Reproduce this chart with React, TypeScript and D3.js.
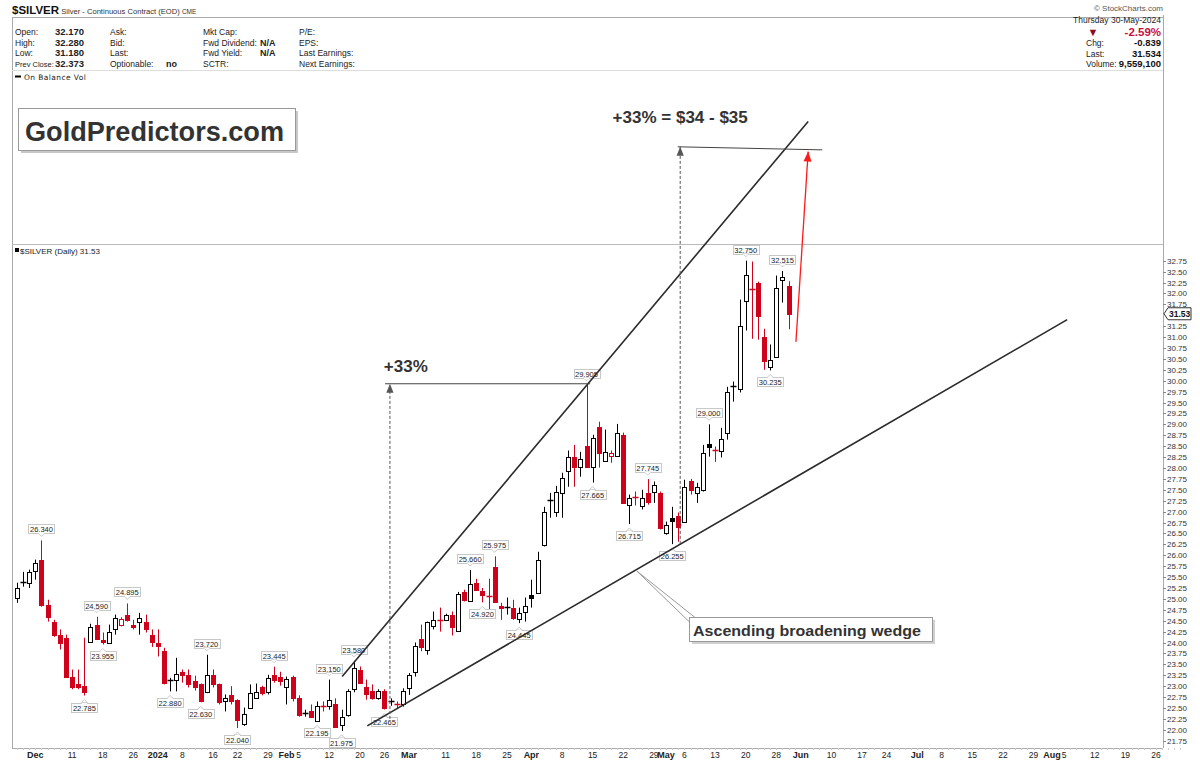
import React from 'react';
import * as d3 from 'd3';

// ---------- calendar ----------
const FIRST_DAY = '2023-11-28';
const LAST_DAY = '2024-08-30';
const HOLIDAYS = ['2023-12-25', '2024-01-01', '2024-01-15', '2024-02-19', '2024-03-29', '2024-05-27', '2024-06-19', '2024-07-04'];

// ---------- daily OHLC (Nov 28 2023 .. May 30 2024) ----------
const OPEN = [25.03, 25.36, 25.37, 25.65, 25.90, 24.87, 24.48, 24.18, 24.11, 23.22, 23.06, 23.01, 24.02, 24.41, 24.05, 24.00, 24.30, 24.41, 24.64, 24.41,
  24.46, 24.48, 24.18, 23.98, 23.81, 23.12, 23.13, 23.33, 23.26, 23.11, 23.04, 22.86, 23.26, 23.04, 22.65, 22.79, 22.69, 22.13, 22.51, 22.74,
  22.97, 22.86, 23.26, 23.22, 22.97, 23.22, 22.74, 22.37, 22.42, 22.20, 22.55, 22.55, 22.58, 22.11, 22.35, 22.93, 23.38, 22.97, 22.88, 22.72,
  22.90, 22.66, 22.60, 22.60, 22.95, 23.33, 24.09, 23.84, 24.37, 24.51, 24.52, 24.62, 24.27, 25.16, 24.96, 25.37, 25.19, 25.06, 25.74, 24.84,
  24.80, 24.80, 24.55, 24.71, 25.10, 25.14, 26.24, 27.27, 27.00, 27.43, 27.92, 28.26, 28.03, 28.51, 28.03, 28.95, 28.17, 28.27, 28.28, 28.76,
  27.16, 27.33, 27.14, 27.43, 27.46, 27.43, 26.52, 26.86, 26.91, 26.77, 27.69, 27.43, 27.50, 28.56, 28.42, 28.40, 28.81, 29.87, 29.82, 31.83,
  32.10, 32.25, 31.01, 30.32, 30.55, 32.31, 32.17];
const HIGH = [25.37, 25.62, 25.67, 25.90, 26.34, 24.98, 24.52, 24.30, 24.18, 23.38, 23.38, 24.11, 24.43, 24.59, 24.23, 24.41, 24.64, 24.58, 24.895, 24.52,
  24.68, 24.64, 24.30, 24.30, 23.88, 23.19, 23.65, 23.38, 23.38, 23.24, 23.06, 23.72, 23.38, 23.06, 22.81, 23.00, 22.70, 22.51, 23.04, 23.06,
  23.01, 23.26, 23.445, 23.33, 23.22, 23.24, 22.79, 22.46, 22.58, 22.65, 22.65, 23.15, 22.72, 22.46, 22.93, 23.58, 23.45, 23.15, 23.04, 22.93,
  22.93, 22.72, 22.65, 22.95, 23.30, 24.00, 24.41, 24.48, 24.71, 24.80, 24.66, 24.71, 25.16, 25.21, 25.66, 25.46, 25.25, 25.46, 25.975, 24.91,
  25.03, 24.98, 24.80, 25.03, 25.44, 26.08, 27.11, 27.43, 27.59, 27.89, 28.40, 28.53, 28.37, 29.905, 28.76, 29.06, 28.88, 28.40, 29.01, 28.81,
  27.39, 27.46, 27.50, 27.745, 27.69, 27.46, 26.77, 27.11, 26.98, 27.73, 27.75, 27.66, 28.53, 29.00, 28.49, 28.92, 29.86, 29.98, 31.86, 32.75,
  32.73, 32.27, 31.19, 30.83, 32.41, 32.515, 32.28];
const LOW = [24.91, 25.28, 25.25, 25.44, 24.82, 24.48, 24.13, 23.84, 23.19, 22.93, 22.93, 22.785, 24.00, 24.07, 23.955, 23.98, 24.18, 24.37, 24.48, 24.30,
  24.18, 24.23, 23.90, 23.68, 23.04, 22.88, 22.88, 23.08, 22.97, 22.90, 22.63, 22.84, 22.97, 22.58, 22.42, 22.58, 22.04, 22.09, 22.49, 22.72,
  22.79, 22.81, 23.08, 23.01, 22.58, 22.65, 22.30, 22.30, 22.28, 22.195, 22.42, 22.46, 22.05, 21.975, 22.30, 22.86, 23.06, 22.69, 22.69, 22.69,
  22.465, 22.55, 22.50, 22.53, 22.80, 23.22, 23.80, 23.72, 24.30, 24.25, 24.50, 24.16, 24.25, 24.94, 24.94, 25.19, 24.92, 24.64, 24.91, 24.52,
  24.64, 24.52, 24.445, 24.48, 24.80, 25.14, 26.20, 26.86, 26.88, 26.86, 27.57, 27.57, 27.80, 28.01, 27.665, 28.01, 28.14, 28.12, 28.26, 27.18,
  26.715, 27.14, 27.05, 27.16, 27.20, 26.59, 26.47, 26.255, 26.31, 26.75, 27.39, 27.20, 27.46, 28.26, 28.14, 28.24, 28.65, 29.52, 29.73, 31.15,
  30.96, 30.94, 30.25, 30.235, 30.53, 31.79, 31.18];
const CLOSE = [25.26, 25.38, 25.62, 25.83, 24.87, 24.59, 24.18, 24.00, 23.22, 22.99, 22.97, 22.86, 24.36, 24.09, 24.02, 24.25, 24.57, 24.55, 24.52, 24.36,
  24.57, 24.30, 24.02, 23.91, 23.08, 23.13, 23.28, 23.25, 23.04, 22.99, 22.65, 23.26, 23.04, 22.63, 22.74, 22.65, 22.23, 22.37, 22.84, 22.86,
  22.84, 23.19, 23.15, 23.11, 23.17, 22.74, 22.35, 22.38, 22.30, 22.55, 22.53, 22.69, 22.07, 22.30, 22.88, 23.42, 23.08, 22.81, 22.74, 22.90,
  22.50, 22.67, 22.58, 22.88, 23.26, 23.93, 23.90, 24.46, 24.52, 24.50, 24.64, 24.36, 25.12, 24.98, 25.34, 25.21, 25.10, 25.05, 24.94, 24.78,
  24.82, 24.57, 24.68, 24.84, 25.03, 25.88, 27.00, 27.25, 27.46, 27.78, 28.26, 28.03, 28.21, 28.03, 28.69, 28.35, 28.37, 28.34, 28.81, 27.20,
  27.32, 27.31, 27.32, 27.23, 27.62, 26.63, 26.70, 26.79, 26.65, 27.57, 27.50, 27.57, 28.35, 28.49, 28.40, 28.67, 29.73, 29.85, 31.26, 32.43,
  32.09, 31.49, 30.44, 30.48, 32.13, 32.373, 31.534];

// ---------- price labels on swing points ----------
const PL_INDEX = [4, 11, 13, 14, 18, 25, 30, 31, 36, 42, 49, 51, 53, 55, 60, 74, 76, 78, 82, 93, 94, 100, 103, 107, 113, 119, 123, 125];
const PL_TEXT = ['26.340', '22.785', '24.590', '23.955', '24.895', '22.880', '22.630', '23.720', '22.040', '23.445', '22.195', '23.150', '21.975', '23.580', '22.465',
  '25.660', '24.920', '25.975', '24.445', '29.905', '27.665', '26.715', '27.745', '26.255', '29.000', '32.750', '30.235', '32.515'];
const PL_SIDE = ['a', 'b', 'a', 'b', 'a', 'b', 'b', 'a', 'b', 'a', 'b', 'a', 'b', 'a', 'b', 'a', 'b', 'a', 'b', 'a', 'b', 'b', 'a', 'b', 'a', 'a', 'b', 'a'];

// ---------- axes ----------
const Y_TICKS = ['21.75', '22.00', '22.25', '22.50', '22.75', '23.00', '23.25', '23.50', '23.75', '24.00', '24.25', '24.50', '24.75', '25.00', '25.25', '25.50',
  '25.75', '26.00', '26.25', '26.50', '26.75', '27.00', '27.25', '27.50', '27.75', '28.00', '28.25', '28.50', '28.75', '29.00', '29.25', '29.50',
  '29.75', '30.00', '30.25', '30.50', '30.75', '31.00', '31.25', '31.75', '32.00', '32.25', '32.50', '32.75'];
const LAST_PRICE = 31.534;
const LAST_PRICE_TEXT = '31.53';
const X_TICK_DATES = ['2023-12-01', '2023-12-11', '2023-12-18', '2023-12-26', '2024-01-02', '2024-01-08', '2024-01-16', '2024-01-22', '2024-01-29', '2024-02-01',
  '2024-02-05', '2024-02-12', '2024-02-20', '2024-02-26', '2024-03-01', '2024-03-11', '2024-03-18', '2024-03-25', '2024-04-01', '2024-04-08', '2024-04-15',
  '2024-04-22', '2024-04-29', '2024-05-01', '2024-05-06', '2024-05-13', '2024-05-20', '2024-05-28', '2024-06-03', '2024-06-10', '2024-06-17', '2024-06-24',
  '2024-07-01', '2024-07-08', '2024-07-15', '2024-07-22', '2024-07-29', '2024-08-01', '2024-08-05', '2024-08-12', '2024-08-19', '2024-08-26'];
const X_TICK_TEXT = ['Dec', '11', '18', '26', '2024', '8', '16', '22', '29', 'Feb', '5', '12', '20', '26', 'Mar', '11', '18', '25', 'Apr', '8', '15',
  '22', '29', 'May', '6', '13', '20', '28', 'Jun', '10', '17', '24', 'Jul', '8', '15', '22', '29', 'Aug', '5', '12', '19', '26'];
const X_TICK_BOLD = ['Dec', '2024', 'Feb', 'Mar', 'Apr', 'May', 'Jun', 'Jul', 'Aug'];

// ---------- drawn annotations (trading-day index, price) ----------
const UPPER_WEDGE = [[53.1, 23.22], [129.2, 35.94]];
const LOWER_WEDGE = [[57.2, 22.09], [171.5, 31.40]];
const PROJ1_VERT = [[60.9, 22.25], [60.9, 29.93]];
const PROJ1_HORZ = [[60.1, 29.93], [93.6, 29.93]];
const PROJ2_VERT = [[108.3, 26.26], [108.3, 35.36]];
const PROJ2_HORZ = [[107.9, 35.36], [131.5, 35.29]];
const RED_ARROW = [[127.2, 30.89], [129.2, 35.25]];
const CALLOUT_TIP = [101.2, 25.64];

const RED = '#d0021b';
const FONT = '"Liberation Sans", Arial, sans-serif';

function tradingDays(): string[] {
  const out: string[] = [];
  const d = new Date(FIRST_DAY + 'T00:00:00Z');
  const end = new Date(LAST_DAY + 'T00:00:00Z');
  while (d <= end) {
    const s = d.toISOString().slice(0, 10);
    const wd = d.getUTCDay();
    if (wd !== 0 && wd !== 6 && !HOLIDAYS.includes(s)) out.push(s);
    d.setUTCDate(d.getUTCDate() + 1);
  }
  return out;
}

const px = (v: number) => Math.round(v) + 0.5;

export default function App() {
  const days = tradingDays();
  const x = d3.scaleLinear().domain([0, 186]).range([17, 1156]);
  const y = d3.scaleLinear().domain([21.75, 32.75]).range([740.7, 260.7]);
  const L = 12, R = 1163;

  const arrowHead = (x0: number, y0: number, x1: number, y1: number, color: string, size = 8) => {
    const ang = Math.atan2(y1 - y0, x1 - x0);
    const w = size * 0.4;
    const bx = x1 - size * Math.cos(ang), by = y1 - size * Math.sin(ang);
    const p = [
      [x1, y1],
      [bx + w * Math.sin(ang), by - w * Math.cos(ang)],
      [bx - w * Math.sin(ang), by + w * Math.cos(ang)],
    ];
    return <polygon points={p.map((q) => q.join(',')).join(' ')} fill={color} />;
  };

  const seg = (s: number[][]) => ({ x1: x(s[0][0]), y1: y(s[0][1]), x2: x(s[1][0]), y2: y(s[1][1]) });

  const headerRows = [
    ['Open:', '32.170', 'Ask:', '', 'Mkt Cap:', '', 'P/E:'],
    ['High:', '32.280', 'Bid:', '', 'Fwd Dividend:', 'N/A', 'EPS:'],
    ['Low:', '31.180', 'Last:', '', 'Fwd Yield:', 'N/A', 'Last Earnings:'],
    ['Prev Close:', '32.373', 'Optionable:', 'no', 'SCTR:', '', 'Next Earnings:'],
  ];
  const rowY = [35, 45.5, 56, 66.5];

  const up = seg(UPPER_WEDGE), lo = seg(LOWER_WEDGE);
  const p1v = seg(PROJ1_VERT), p1h = seg(PROJ1_HORZ), p2v = seg(PROJ2_VERT), p2h = seg(PROJ2_HORZ), ra = seg(RED_ARROW);
  const tipX = x(CALLOUT_TIP[0]), tipY = y(CALLOUT_TIP[1]);
  const lp = y(LAST_PRICE);

  return (
    <svg width={1200} height={761} style={{ position: 'absolute', left: 0, top: 0, background: '#fff' }} fontFamily={FONT}>
      <rect x={0} y={0} width={1200} height={761} fill="#fff" />
      {/* ---------- header ---------- */}
      <text x={12} y={14} fill="#111">
        <tspan fontSize={11.5} fontWeight="bold">$SILVER</tspan>
        <tspan fontSize={7.6} fill="#333"> Silver - Continuous Contract (EOD) </tspan>
        <tspan fontSize={6.5} fill="#333">CME</tspan>
      </text>
      <text x={1163} y={11} fontSize={8} fill="#555" textAnchor="end">© StockCharts.com</text>
      <line x1={L} x2={R} y1={17.5} y2={17.5} stroke="#aaa" />
      <line x1={L + 0.5} x2={L + 0.5} y1={17.5} y2={748} stroke="#aaa" />
      <line x1={R + 0.5} x2={R + 0.5} y1={15} y2={748} stroke="#aaa" />
      <line x1={L} x2={R} y1={70.5} y2={70.5} stroke="#ddd" />
      {headerRows.map((r, i) => (
        <g key={i} fontSize={8.5} fill="#222">
          <text x={15} y={rowY[i]}>
            <tspan fontSize={r[0].length > 6 ? 7.5 : 8.5}>{r[0]}</tspan>
            <tspan x={55} fontWeight="bold" fontSize={9.5}>{r[1]}</tspan>
          </text>
          <text x={110} y={rowY[i]}>{r[2]}</text>
          <text x={166} y={rowY[i]} fontWeight="bold" fontSize={9}>{r[3]}</text>
          <text x={203} y={rowY[i]}>{r[4]}</text>
          <text x={260} y={rowY[i]} fontWeight="bold" fontSize={9}>{r[5]}</text>
          <text x={299} y={rowY[i]}>{r[6]}</text>
        </g>
      ))}
      <text x={1161} y={23} fontSize={8.5} fill="#222" textAnchor="end">Thursday  30-May-2024</text>
      <text x={1093} y={36} fontSize={11} fill="#8b0a2a" textAnchor="middle">▼</text>
      <text x={1161} y={36} fontSize={11.5} fontWeight="bold" fill="#c8103a" textAnchor="end">-2.59%</text>
      <text x={1086} y={46} fontSize={8.5} fill="#222">Chg:</text>
      <text x={1161} y={46} fontSize={9.5} fontWeight="bold" fill="#111" textAnchor="end">-0.839</text>
      <text x={1086} y={56.5} fontSize={8.5} fill="#222">Last:</text>
      <text x={1161} y={56.5} fontSize={9.5} fontWeight="bold" fill="#111" textAnchor="end">31.534</text>
      <text x={1086} y={67} fontSize={8.5} fill="#222">Volume:</text>
      <text x={1161} y={67} fontSize={9.5} fontWeight="bold" fill="#111" textAnchor="end">9,559,100</text>

      {/* OBV panel */}
      <line x1={15} x2={21} y1={76.5} y2={76.5} stroke="#000" strokeWidth={2} />
      <text x={24} y={79.5} fontSize={7.5} fill="#222" fontFamily='"DejaVu Sans", sans-serif' letterSpacing={0.4}>On Balance Vol</text>
      <line x1={L} x2={R} y1={244.5} y2={244.5} stroke="#bbb" />

      {/* logo */}
      <rect x={21} y={111} width={277} height={42} fill="#c8c8c8" />
      <rect x={18.5} y={108.5} width={277} height={42} fill="#fff" stroke="#999" />
      <text x={25} y={141} fontSize={27} fontWeight="bold" fill="#333" textLength={259} lengthAdjust="spacingAndGlyphs">GoldPredictors.com</text>

      {/* price panel title */}
      <rect x={15} y={248} width={4} height={4} fill="#000" />
      <text x={20} y={254} fontSize={8} fill="#222">$SILVER (Daily) 31.53</text>

      {/* right axis */}
      {Y_TICKS.map((t) => (
        <g key={t}>
          <line x1={R} x2={R + 3} y1={px(y(+t))} y2={px(y(+t))} stroke="#888" />
          <text x={R + 4} y={y(+t) + 3} fontSize={8} fill="#333">{t}</text>
        </g>
      ))}
      <polygon
        points={`${R + 1},${lp} ${R + 5},${lp - 6} ${R + 28},${lp - 6} ${R + 28},${lp + 6} ${R + 5},${lp + 6}`}
        fill="#fff" stroke="#333" />
      <text x={R + 6} y={lp + 3.5} fontSize={8.5} fontWeight="bold" fill="#111">{LAST_PRICE_TEXT}</text>

      {/* x axis */}
      <line x1={L} x2={R} y1={748.5} y2={748.5} stroke="#aaa" />
      {days.map((d, i) => (
        <line key={d} x1={px(x(i))} x2={px(x(i))} y1={748} y2={750} stroke="#ccc" />
      ))}
      {X_TICK_DATES.map((d, i) => {
        const idx = days.indexOf(d);
        const bold = X_TICK_BOLD.includes(X_TICK_TEXT[i]);
        return (
          <text key={d} x={x(idx)} y={758} fontSize={bold ? 9 : 8.5} fontWeight={bold ? 'bold' : 'normal'} fill="#222" textAnchor="middle">
            {X_TICK_TEXT[i]}
          </text>
        );
      })}

      {/* candles */}
      {OPEN.map((o, i) => {
        const c = CLOSE[i];
        const prev = i > 0 ? CLOSE[i - 1] : o;
        const col = c < prev ? RED : '#000';
        const filled = c < o;
        const cx = px(x(i));
        const yT = Math.round(y(Math.max(o, c))) + 0.5;
        const yB = Math.round(y(Math.min(o, c))) + 0.5;
        const bh = Math.max(0.01, yB - yT);
        return (
          <g key={i}>
            <line x1={cx} x2={cx} y1={y(HIGH[i])} y2={y(LOW[i])} stroke={col} strokeWidth={1} />
            {bh < 1.5 ? (
              <line x1={cx - 3} x2={cx + 3} y1={yT} y2={yT} stroke={col} strokeWidth={1.5} />
            ) : (
              <rect x={cx - 2} y={yT} width={4} height={bh} fill={filled ? col : '#fff'} stroke={col} strokeWidth={1} />
            )}
          </g>
        );
      })}

      {/* price labels */}
      {PL_INDEX.map((idx, k) => {
        const above = PL_SIDE[k] === 'a';
        const cx = x(idx);
        const yy = above ? y(+PL_TEXT[k]) - 4 : y(+PL_TEXT[k]) + 4;
        const bh = 9, bw = 26;
        const by = above ? yy - 3 - bh : yy + 3;
        const tri = above
          ? `${cx - 3},${yy - 3} ${cx + 3},${yy - 3} ${cx},${yy}`
          : `${cx - 3},${yy + 3} ${cx + 3},${yy + 3} ${cx},${yy}`;
        return (
          <g key={k}>
            <rect x={Math.round(cx - bw / 2) + 0.5} y={Math.round(by) + 0.5} width={bw} height={bh} fill="#fff" stroke="#c8c8c8" />
            <polygon points={tri} fill="#fff" stroke="#c8c8c8" />
            <line x1={cx - 2.5} x2={cx + 2.5} y1={above ? Math.round(by) + bh + 0.5 : Math.round(by) + 0.5} y2={above ? Math.round(by) + bh + 0.5 : Math.round(by) + 0.5} stroke="#fff" strokeWidth={1.2} />
            <text x={cx} y={Math.round(by) + 8} fontSize={7.5} fill="#222" textAnchor="middle">{PL_TEXT[k]}</text>
          </g>
        );
      })}

      {/* wedge lines */}
      <line {...up} stroke="#2a2a2a" strokeWidth={1.6} />
      <line {...lo} stroke="#2a2a2a" strokeWidth={1.6} />

      {/* +33% projection 1 */}
      <line {...p1v} stroke="#555" strokeDasharray="3,2" />
      <line {...p1h} stroke="#444" strokeWidth={1} />
      {arrowHead(p1v.x1, p1v.y1, p1v.x2, p1v.y2, '#555', 9)}
      <text x={x(59.9)} y={y(30.2)} fontSize={17} fontWeight="bold" fill="#333">+33%</text>

      {/* projection 2 */}
      <line {...p2v} stroke="#555" strokeDasharray="3,2" />
      <line {...p2h} stroke="#444" strokeWidth={1} />
      {arrowHead(p2v.x1, p2v.y1, p2v.x2, p2v.y2, '#555', 9)}
      <text x={x(108.3)} y={y(35.9)} fontSize={17} fontWeight="bold" fill="#333" textAnchor="middle">+33% = $34 - $35</text>

      {/* red arrow */}
      <line {...ra} stroke="#ff1a1a" strokeWidth={1.3} />
      {arrowHead(ra.x1, ra.y1, ra.x2, ra.y2, '#ff1a1a', 10)}

      {/* callout */}
      <polygon points={`${tipX},${tipY} 695,617.5 689.5,622`} fill="#fff" stroke="#999" />
      <rect x={692} y={620} width={243} height={24} fill="#d0d0d0" />
      <rect x={689.5} y={617.5} width={243} height={24} fill="#fff" stroke="#999" />
      <text x={693} y={635.5} fontSize={15.5} fontWeight="bold" fill="#333" textLength={228} lengthAdjust="spacingAndGlyphs">Ascending broadening wedge</text>
    </svg>
  );
}
